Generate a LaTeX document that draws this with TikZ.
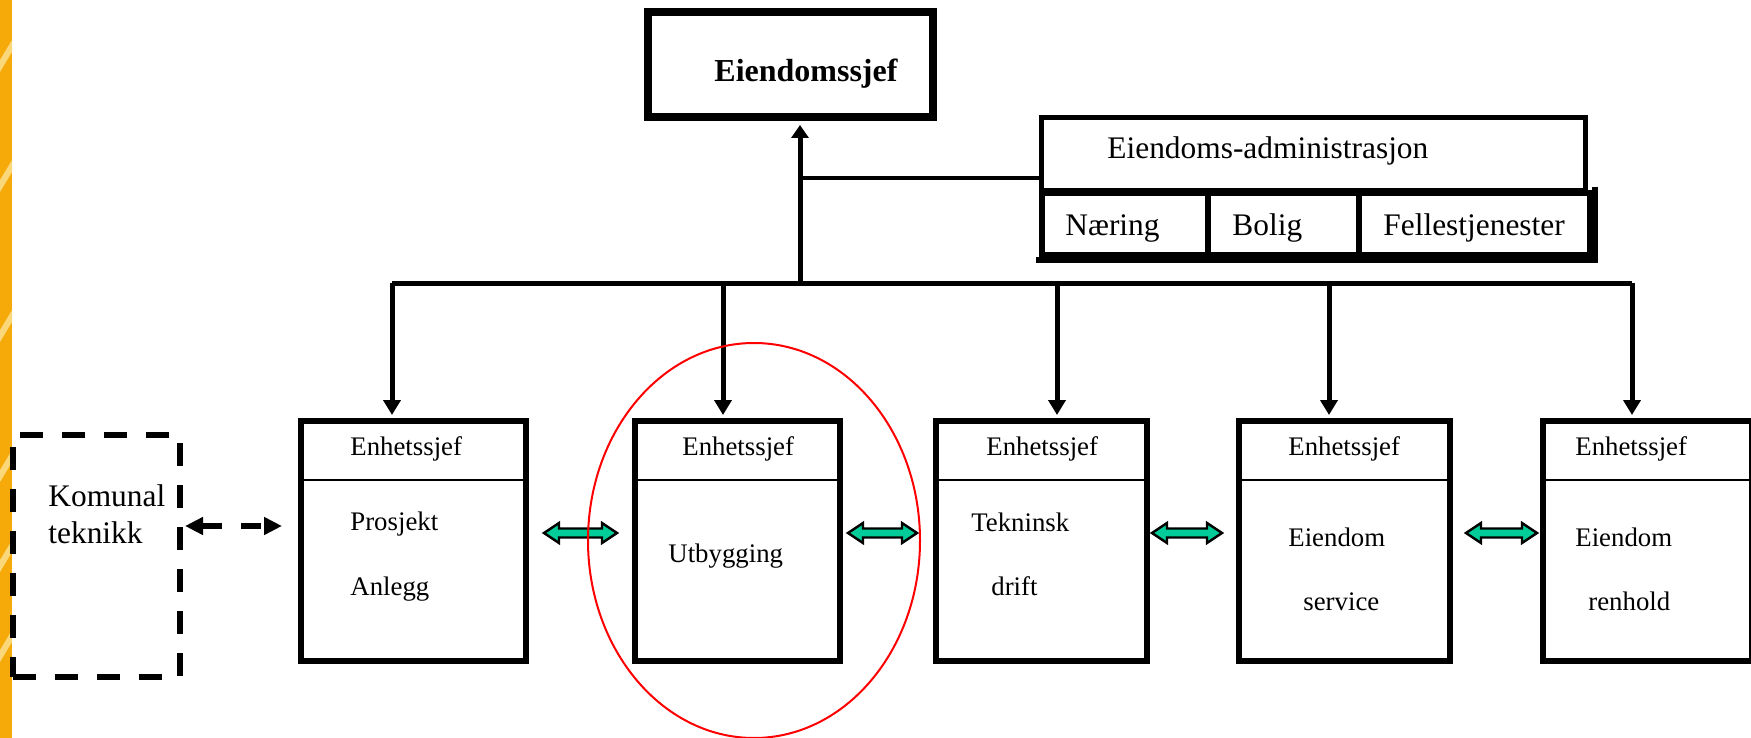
\documentclass[tikz,border=0pt]{standalone}
\usepackage{fontspec}
\setmainfont{Liberation Serif}
\usetikzlibrary{arrows.meta,calc}
\definecolor{strip}{RGB}{245,170,10}
\definecolor{stripl}{RGB}{250,215,120}
\definecolor{grn}{RGB}{0,204,153}
\newcommand\grarrow[2]{%
  \filldraw[garrow] let \p1=(#1), \p2=(#2) in
  (\x1,\y1) -- (\x1+7.5pt,\y1+5pt) -- (\x1+7.5pt,\y1+2.25pt) -- (\x2-7.5pt,\y1+2.25pt)
  -- (\x2-7.5pt,\y1+5pt) -- (\x2,\y1) -- (\x2-7.5pt,\y1-5pt) -- (\x2-7.5pt,\y1-2.25pt)
  -- (\x1+7.5pt,\y1-2.25pt) -- (\x1+7.5pt,\y1-5pt) -- cycle;}
\begin{document}
\begin{tikzpicture}[x=0.5pt,y=-0.5pt,
  ubox/.style={draw, line width=3pt, minimum width=#1, minimum height=120pt, inner sep=0pt},
  cell/.style={draw, line width=3pt, minimum width=#1, minimum height=31pt, inner sep=0pt},
  etxt/.style={anchor=base west, inner sep=0pt, font=\fontsize{13.4}{16}\selectfont},
  atxt/.style={anchor=base west, inner sep=0pt, font=\fontsize{15.7}{18}\selectfont},
  conn/.style={line width=2.5pt},
  drop/.style={line width=2.5pt, -{Triangle[length=7.5pt,width=8.5pt]}, shorten >=1.5pt},
  garrow/.style={fill=grn, draw=black, line width=1.2pt, line join=miter},
  divline/.style={line width=1.1pt}
]
\useasboundingbox (0,0) rectangle (1751,738);
% left decorative strip
\fill[strip] (0,0) rectangle (12,738);
\foreach \yy in {60,180,330,470,560,650} {\fill[stripl] (0,\yy) -- (12,\yy-20) -- (12,\yy-8) -- (0,\yy+12) -- cycle;}

% top box
\node[draw, line width=4pt, minimum width=142.5pt, minimum height=52.5pt, inner sep=0pt] (chief) at (790.5,64.5) {};
\node[anchor=base west, inner sep=0pt, font=\fontsize{16}{19}\selectfont\bfseries] (chieft) at (714,82) {Eiendomssjef};

% administration box
\node[draw, line width=2.5pt, minimum width=272pt, minimum height=36.25pt, inner sep=0pt] (admin) at (1313.5,153.75) {};
\node[cell=83pt] (c1) at (1125,224) {};
\node[cell=75.5pt] (c2) at (1283.5,224) {};
\node[cell=115.5pt] (c3) at (1474.5,224) {};
\draw[line width=3pt, line cap=rect] ([xshift=1pt]c3.north east) -- ([xshift=1pt,yshift=-1pt]c3.south east)
  -- ([yshift=-1pt]c1.south west);
\node[atxt] (admint) at (1107,158) {Eiendoms-administrasjon};
\node[atxt] (c1t) at (1065,235) {Næring};
\node[atxt] (c2t) at (1232,235) {Bolig};
\node[atxt] (c3t) at (1383,235) {Fellestjenester};

% unit boxes
\node[ubox=112.5pt] (u1) at (413.5,541) {};
\node[ubox=102.5pt] (u2) at (737.5,541) {};
\node[ubox=105.5pt] (u3) at (1041.5,541) {};
\node[ubox=105.5pt] (u4) at (1344.5,541) {};
\node[ubox=104.5pt] (u5) at (1647.5,541) {};
\coordinate (dv) at (0,480);
\foreach \u in {u1,u2,u3,u4,u5} {\draw[divline] (\u.west |- dv) -- (\u.east |- dv);}

\node[etxt] (h1) at (350,455) {Enhetssjef};
\node[etxt] (h2) at (682,455) {Enhetssjef};
\node[etxt] (h3) at (986,455) {Enhetssjef};
\node[etxt] (h4) at (1288,455) {Enhetssjef};
\node[etxt] (h5) at (1575,455) {Enhetssjef};
\node[etxt] (t1a) at (350,530) {Prosjekt};
\node[etxt] (t1b) at (350,595) {Anlegg};
\node[etxt] (t2) at (668,562) {Utbygging};
\node[etxt] (t3a) at (971,531) {Tekninsk};
\node[etxt] (t3b) at (991,595) {drift};
\node[etxt] (t4a) at (1288,546) {Eiendom};
\node[etxt] (t4b) at (1303,610) {service};
\node[etxt] (t5a) at (1575,546) {Eiendom};
\node[etxt] (t5b) at (1588,610) {renhold};

% dashed external box
\node[draw, line width=3pt, dash pattern=on 11.5pt off 9.5pt, minimum width=83.5pt, minimum height=121pt, inner sep=0pt] (kom) at (96.5,556) {};
\node[anchor=base west, inner sep=0pt, font=\fontsize{15.7}{18}\selectfont] (komt1) at (48,506) {Komunal};
\node[anchor=base west, inner sep=0pt, font=\fontsize{15.7}{18}\selectfont] (komt2) at (48,543) {teknikk};

% connectors
\coordinate (bus) at (800,283);
\coordinate (aj) at (800,178);
\coordinate (b1) at (392,283);
\coordinate (b2) at (723,283);
\coordinate (b3) at (1057,283);
\coordinate (b4) at (1329,283);
\coordinate (b5) at (1632,283);
\draw[conn, -{Triangle[length=6.5pt,width=8.5pt]}, shorten >=2pt] (bus) -- (bus |- chief.south);
\draw[line width=2.2pt] (aj) -- (aj -| admin.west);
\draw[conn] (b1) -- (b5);
\draw[drop] (b1) -- (b1 |- u1.north);
\draw[drop] (b2) -- (b2 |- u2.north);
\draw[drop] (b3) -- (b3 |- u3.north);
\draw[drop] (b4) -- (b4 |- u4.north);
\draw[drop] (b5) -- (b5 |- u5.north);

\draw[line width=3pt, dash pattern=on 10pt off 9.5pt,
  {Triangle[length=9pt,width=8.5pt]}-{Triangle[length=9pt,width=8.5pt]}]
  ([xshift=1pt,yshift=15pt]kom.east) -- ([xshift=-8pt,yshift=7.5pt]u1.west);

\grarrow{[xshift=7.5pt,yshift=4pt]u1.east}{[xshift=-7.5pt,yshift=4pt]u2.west}
\grarrow{[xshift=2.5pt,yshift=4pt]u2.east}{[xshift=-8pt,yshift=4pt]u3.west}
\grarrow{[xshift=1pt,yshift=4pt]u3.east}{[xshift=-7pt,yshift=4pt]u4.west}
\grarrow{[xshift=6.5pt,yshift=4pt]u4.east}{[xshift=-1.5pt,yshift=4pt]u5.west}

% highlight ellipse
\draw[red, line width=1pt] (754,540.5) ellipse [x radius=166, y radius=197.5];
\end{tikzpicture}
\end{document}
